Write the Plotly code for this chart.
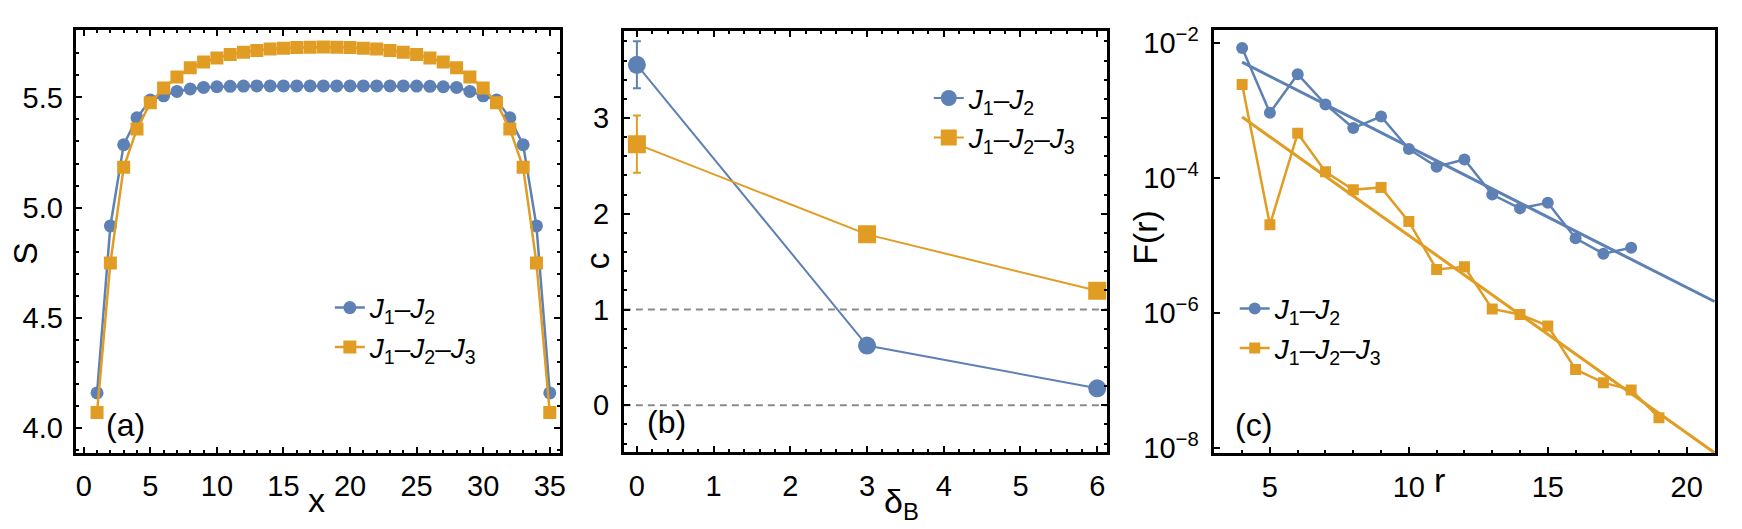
import plotly.graph_objects as go

BLUE = "rgb(94,129,181)"
ORANGE = "rgb(225,156,36)"
FONT = "Arial, Liberation Sans, sans-serif"
W, H = 1742, 529

# ---------------- data ----------------
# panel (a)
sites = list(range(1, 36))
S_J1J2 = [4.16, 4.917, 5.285, 5.407, 5.488, 5.507, 5.527, 5.538, 5.545, 5.548,
          5.550, 5.551, 5.552, 5.552, 5.552, 5.552, 5.552, 5.552, 5.552, 5.552,
          5.552, 5.552, 5.552, 5.552, 5.551, 5.550, 5.548, 5.545, 5.527, 5.507,
          5.488, 5.407, 5.285, 4.917, 4.16]
S_J1J2J3 = [4.071, 4.749, 5.183, 5.357, 5.475, 5.542, 5.592, 5.634, 5.660, 5.679,
            5.694, 5.705, 5.713, 5.719, 5.723, 5.726, 5.727, 5.728, 5.727, 5.726,
            5.723, 5.719, 5.713, 5.705, 5.694, 5.679, 5.660, 5.634, 5.592, 5.542,
            5.475, 5.357, 5.183, 4.749, 4.071]

# panel (b)
delta_B = [0, 3, 6]
c_J1J2 = [3.556, 0.624, 0.177]
c_J1J2_err = [0.245, 0, 0]
c_J1J2J3 = [2.727, 1.785, 1.195]
c_J1J2J3_err = [0.30, 0, 0]
ref_lines_c = [0, 1]

# panel (c)
r_J1J2 = list(range(4, 19))
F_J1J2 = [8.45e-3, 9.3e-4, 3.45e-3, 1.23e-3, 5.5e-4, 8.15e-4, 2.69e-4, 1.47e-4,
          1.88e-4, 5.68e-5, 3.55e-5, 4.29e-5, 1.28e-5, 7.57e-6, 9.25e-6]
r_J1J2J3 = list(range(4, 20))
F_J1J2J3 = [2.42e-3, 2.03e-5, 4.60e-4, 1.24e-4, 6.71e-5, 7.26e-5, 2.26e-5, 4.42e-6,
            4.83e-6, 1.15e-6, 9.54e-7, 6.45e-7, 1.46e-7, 9.3e-8, 7.26e-8, 2.81e-8]
fit_r = [4, 21]
fit_J1J2 = [5.2e-3, 1.48e-6]
fit_J1J2J3 = [8.0e-4, 8.5e-9]

# tick labels
yticks_c = [1e-2, 1e-4, 1e-6, 1e-8]
yticktext_c = ["10<sup>−2</sup>", "10<sup>−4</sup>", "10<sup>−6</sup>", "10<sup>−8</sup>"]

LAB1 = "<i>J</i><sub>1</sub>–<i>J</i><sub>2</sub>"
LAB2 = "<i>J</i><sub>1</sub>–<i>J</i><sub>2</sub>–<i>J</i><sub>3</sub>"

# ---------------- figure ----------------
fig = go.Figure()

# (a)
fig.add_trace(go.Scatter(x=sites, y=S_J1J2, mode="lines+markers", name=LAB1,
                         line=dict(color=BLUE, width=2.5),
                         marker=dict(symbol="circle", size=13, color=BLUE),
                         xaxis="x", yaxis="y", legend="legend"))
fig.add_trace(go.Scatter(x=sites, y=S_J1J2J3, mode="lines+markers", name=LAB2,
                         line=dict(color=ORANGE, width=2.5),
                         marker=dict(symbol="square", size=13, color=ORANGE),
                         xaxis="x", yaxis="y", legend="legend"))
# (b)
fig.add_trace(go.Scatter(x=delta_B, y=c_J1J2, mode="lines+markers", name=LAB1,
                         line=dict(color=BLUE, width=2),
                         marker=dict(symbol="circle", size=18, color=BLUE),
                         error_y=dict(type="data", array=c_J1J2_err, color=BLUE,
                                      thickness=2, width=4),
                         xaxis="x2", yaxis="y2", legend="legend2"))
fig.add_trace(go.Scatter(x=delta_B, y=c_J1J2J3, mode="lines+markers", name=LAB2,
                         line=dict(color=ORANGE, width=2),
                         marker=dict(symbol="square", size=18, color=ORANGE),
                         error_y=dict(type="data", array=c_J1J2J3_err, color=ORANGE,
                                      thickness=2, width=4),
                         xaxis="x2", yaxis="y2", legend="legend2"))
# (c)
fig.add_trace(go.Scatter(x=fit_r, y=fit_J1J2, mode="lines", showlegend=False,
                         line=dict(color=BLUE, width=3), xaxis="x3", yaxis="y3"))
fig.add_trace(go.Scatter(x=fit_r, y=fit_J1J2J3, mode="lines", showlegend=False,
                         line=dict(color=ORANGE, width=3), xaxis="x3", yaxis="y3"))
fig.add_trace(go.Scatter(x=r_J1J2, y=F_J1J2, mode="lines+markers", name=LAB1,
                         line=dict(color=BLUE, width=2.5),
                         marker=dict(symbol="circle", size=12, color=BLUE),
                         xaxis="x3", yaxis="y3", legend="legend3"))
fig.add_trace(go.Scatter(x=r_J1J2J3, y=F_J1J2J3, mode="lines+markers", name=LAB2,
                         line=dict(color=ORANGE, width=2.5),
                         marker=dict(symbol="square", size=11, color=ORANGE),
                         xaxis="x3", yaxis="y3", legend="legend3"))

for v in ref_lines_c:
    fig.add_shape(type="line", xref="x2 domain", yref="y2", x0=0, x1=1, y0=v, y1=v,
                  line=dict(color="#8a8a8a", width=2, dash="7px,5px"), layer="below")

TF = dict(family=FONT, size=29, color="black")


def ax(domain, rng, dtick, minor_dtick, mirror="allticks", anchor=None, standoff=None, **kw):
    d = dict(domain=domain, range=rng, showline=True, linewidth=3, linecolor="black",
             mirror=mirror, ticks="inside", ticklen=6, tickwidth=1.5, tickcolor="black",
             showgrid=False, zeroline=False, tickfont=TF, dtick=dtick, tick0=0,
             anchor=anchor)
    if minor_dtick:
        d["minor"] = dict(dtick=minor_dtick, ticks="inside", ticklen=3, tickwidth=1.5,
                          tickcolor="black", showgrid=False)
    if standoff is not None:
        d["ticklabelstandoff"] = standoff
    d.update(kw)
    return d


def px_x(p):
    return p / W


def px_y(p):
    return 1 - p / H


fig.update_layout(
    width=W, height=H, autosize=False,
    margin=dict(l=0, r=0, t=0, b=0),
    paper_bgcolor="white", plot_bgcolor="white",
    font=dict(family=FONT, color="black"),
    xaxis=ax([px_x(76), px_x(561.7)], [-0.6, 35.75], 5, 1, anchor="y", standoff=6),
    yaxis=ax([px_y(461.5), px_y(25)], [3.889, 5.8045], 0.5, 0.1, anchor="x",
             tickformat=".1f", standoff=4),
    xaxis2=ax([px_x(626), px_x(1111)], [-0.17, 6.13], 1, 0.2, anchor="y2", standoff=6),
    yaxis2=ax([px_y(461), px_y(26)], [-0.49, 3.907], 1, 0.2, anchor="x2", standoff=6),
    xaxis3=ax([px_x(1217.7), px_x(1721)], [2.97, 21.02], 5, 1, mirror=True,
              anchor="y3", standoff=6),
    yaxis3=ax([px_y(462), px_y(24.3)], [-8.076, -1.80], None, None, mirror=True,
              anchor="x3", type="log", tickvals=yticks_c, ticktext=yticktext_c,
              standoff=6),
    showlegend=True,
)
fig.layout.yaxis3.dtick = None

LEGFONT = dict(family=FONT, size=28, color="black")
common_leg = dict(bgcolor="rgba(0,0,0,0)", borderwidth=0, font=LEGFONT,
                  xanchor="left", yanchor="middle", xref="paper", yref="paper",
                  tracegroupgap=0, itemclick=False)
fig.update_layout(
    legend=dict(x=px_x(331), y=px_y(332), **common_leg),
    legend2=dict(x=px_x(932), y=px_y(115.5), **common_leg),
    legend3=dict(x=px_x(1239), y=px_y(333), **common_leg),
)

AF = dict(family=FONT, size=34, color="black")
PF = dict(family=FONT, size=32, color="black")
annots = [
    dict(text="S", x=px_x(25), y=px_y(255), textangle=-90, font=AF),
    dict(text="x", x=px_x(318), y=px_y(510), font=AF),
    dict(text="c", x=px_x(599), y=px_y(263), textangle=-90, font=AF),
    dict(text="δ<sub>B</sub>", x=px_x(905), y=px_y(514), font=AF),
    dict(text="F(r)", x=px_x(1149), y=px_y(239.5), textangle=-90, font=AF),
    dict(text="r", x=px_x(1444), y=px_y(490), font=AF),
    dict(text="(a)", x=px_x(126), y=px_y(433), font=PF),
    dict(text="(b)", x=px_x(669), y=px_y(430), font=PF),
    dict(text="(c)", x=px_x(1257.7), y=px_y(433), font=PF),
]
for a in annots:
    a.update(xref="paper", yref="paper", showarrow=False, xanchor="center", yanchor="middle")
    fig.add_annotation(**a)

fig.write_html("out.html", config={"displayModeBar": False},
               post_script="document.body.style.margin='0';")
